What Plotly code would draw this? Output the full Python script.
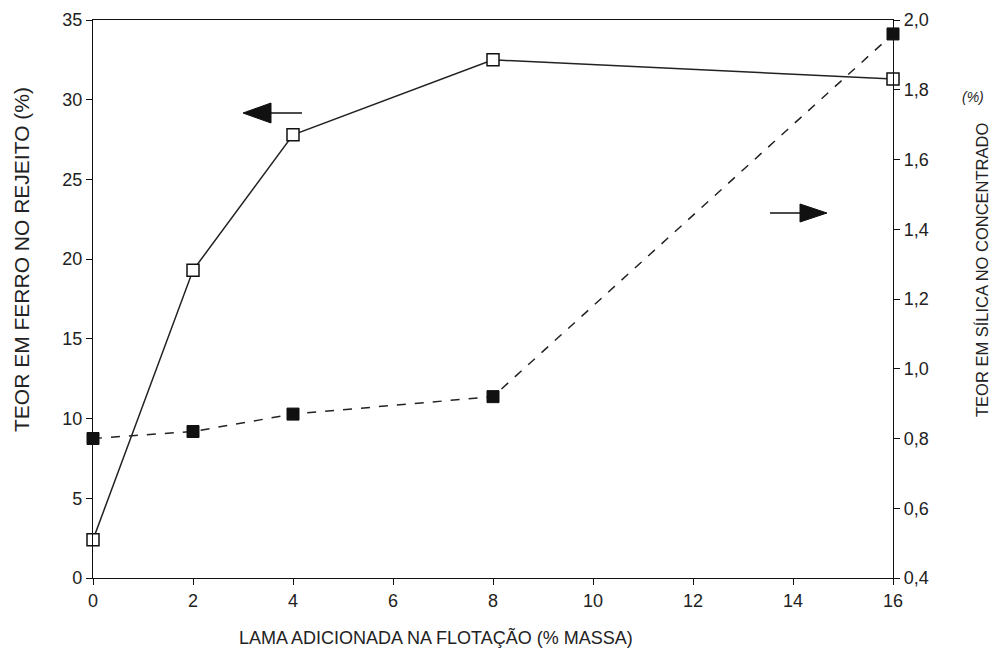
import plotly.graph_objects as go

# Data
lama = [0, 2, 4, 8, 16]
ferro_rejeito = [2.4, 19.3, 27.8, 32.5, 31.3]
silica_conc = [0.80, 0.82, 0.87, 0.92, 1.96]

left_ticks = [0, 5, 10, 15, 20, 25, 30, 35]
right_tickvals = [0.4, 0.6, 0.8, 1.0, 1.2, 1.4, 1.6, 1.8, 2.0]
right_ticktext = ["0,4", "0,6", "0,8", "1,0", "1,2", "1,4", "1,6", "1,8", "2,0"]
x_ticks = [0, 2, 4, 6, 8, 10, 12, 14, 16]

FONT = "Liberation Sans, Arial, sans-serif"
TXT = "#222222"

# plot area in screen pixels (page has an 8px body offset)
PX_L, PX_T, PW, PH = 93, 20, 800, 558


def px(x):
    return (x - PX_L) / PW


def py(y):
    return (PX_T + PH - y) / PH


fig = go.Figure()
fig.add_trace(go.Scatter(
    x=lama, y=ferro_rejeito, mode="lines+markers", yaxis="y",
    line=dict(color="#222222", width=1.5),
    marker=dict(symbol="square", size=12, color="white",
                line=dict(color="#111111", width=1.5)),
    cliponaxis=False, showlegend=False))
fig.add_trace(go.Scatter(
    x=lama, y=silica_conc, mode="lines+markers", yaxis="y2",
    line=dict(color="#222222", width=1.5, dash="dash"),
    marker=dict(symbol="square", size=12, color="#111111",
                line=dict(color="#111111", width=1)),
    cliponaxis=False, showlegend=False))

axis_common = dict(showgrid=False, zeroline=False, showline=True,
                   linecolor="#111111", linewidth=1.2, ticks="outside",
                   ticklen=6, tickcolor="#111111", tickwidth=1.2,
                   automargin=False,
                   tickfont=dict(family=FONT, size=18, color=TXT))

ann_common = dict(xref="paper", yref="paper", xanchor="center",
                  yanchor="middle", showarrow=False)

fig.update_layout(
    width=990, height=647,
    margin=dict(l=PX_L - 8, r=990 - (PX_L - 8) - PW, t=PX_T - 8,
                b=647 - (PX_T - 8) - PH),
    paper_bgcolor="white", plot_bgcolor="white",
    xaxis=dict(range=[0, 16], tickvals=x_ticks, mirror=True, **axis_common),
    yaxis=dict(range=[0, 35], tickvals=left_ticks, **axis_common),
    yaxis2=dict(range=[0.4, 2.0], tickvals=right_tickvals,
                ticktext=right_ticktext, overlaying="y", side="right",
                **axis_common),
    annotations=[
        dict(text="TEOR EM FERRO NO REJEITO (%)", x=px(22), y=py(260),
             textangle=-90, font=dict(family=FONT, size=21, color=TXT),
             **ann_common),
        dict(text="TEOR EM SÍLICA NO CONCENTRADO", x=px(982), y=py(270),
             textangle=-90, font=dict(family=FONT, size=16.5, color=TXT),
             **ann_common),
        dict(text="<i>(%)</i>", x=px(973), y=py(97),
             font=dict(family=FONT, size=14, color=TXT), **ann_common),
        dict(text="LAMA ADICIONADA NA FLOTAÇÃO (% MASSA)", x=px(436),
             y=py(637), font=dict(family=FONT, size=18, color=TXT),
             **ann_common),
    ],
    shapes=[
        # left-pointing arrow (Fe -> left axis)
        dict(type="line", xref="paper", yref="paper",
             x0=px(271), x1=px(302), y0=py(113), y1=py(113),
             line=dict(color="#111111", width=1.5)),
        dict(type="path", xref="paper", yref="paper",
             path=f"M {px(243)} {py(113)} L {px(271)} {py(103)} "
                  f"L {px(271)} {py(123)} Z",
             fillcolor="#111111", line=dict(color="#111111", width=1)),
        # right-pointing arrow (SiO2 -> right axis)
        dict(type="line", xref="paper", yref="paper",
             x0=px(770), x1=px(800), y0=py(213), y1=py(213),
             line=dict(color="#111111", width=1.5)),
        dict(type="path", xref="paper", yref="paper",
             path=f"M {px(827)} {py(213)} L {px(800)} {py(204)} "
                  f"L {px(800)} {py(222)} Z",
             fillcolor="#111111", line=dict(color="#111111", width=1)),
    ],
)

fig.write_html("out.html")
